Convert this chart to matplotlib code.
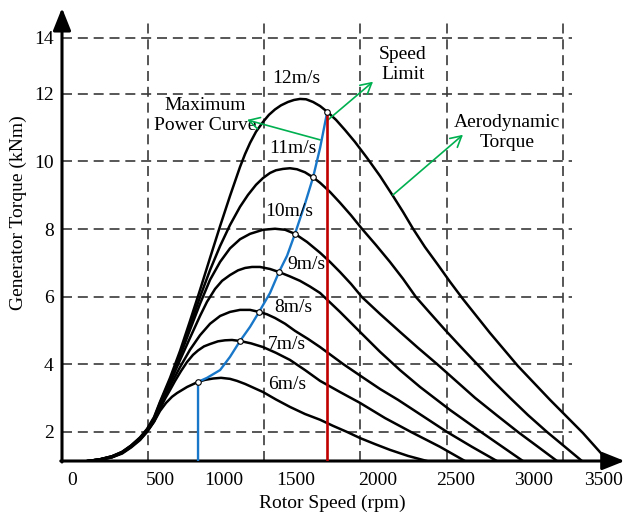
import matplotlib
matplotlib.use('Agg')
import matplotlib.pyplot as plt

plt.rcParams['font.family'] = ['Liberation Serif', 'DejaVu Serif']
plt.rcParams['font.size'] = 14

# aerodynamic torque curves, rotor speed (rpm) vs torque (kNm)
# the low-speed part is shared by all wind speeds (thick bundle)
bundle_rpm = [118, 197, 276, 342, 401, 460, 506, 552]

rpm_6 = bundle_rpm + [591, 631, 670, 703, 769, 841, 887, 940, 992, 1051, 1097, 1150, 1209, 1268, 1353, 1445,
                      1544, 1643, 1728, 1820, 1905, 2004, 2102, 2221, 2345]
tq_6 = [1.14, 1.17, 1.25, 1.36, 1.54, 1.76, 2.00, 2.30,
        2.62, 2.86, 3.04, 3.15, 3.33, 3.48, 3.54, 3.58, 3.60, 3.57, 3.51, 3.42, 3.30, 3.18, 2.96, 2.74,
        2.53, 2.36, 2.18, 2.00, 1.82, 1.64, 1.47, 1.29, 1.14]

rpm_7 = bundle_rpm + [591, 624, 657, 690, 729, 769, 808, 841, 880, 920, 972, 1018, 1064, 1117, 1189, 1268,
                      1353, 1445, 1544, 1643, 1774, 1905, 2070, 2240, 2431, 2595]
tq_7 = [1.14, 1.17, 1.25, 1.38, 1.56, 1.78, 2.01, 2.31,
        2.68, 2.98, 3.24, 3.51, 3.80, 4.07, 4.28, 4.41, 4.53, 4.60, 4.68, 4.71, 4.72, 4.69, 4.62, 4.51,
        4.34, 4.13, 3.83, 3.51, 3.18, 2.86, 2.41, 2.00, 1.56, 1.14]

rpm_8 = bundle_rpm + [591, 657, 723, 788, 854, 920, 986, 1051, 1117, 1183, 1242, 1294, 1347, 1413, 1478,
                      1564, 1643, 1794, 1918, 2037, 2155, 2267, 2477, 2641, 2805]
tq_8 = [1.14, 1.19, 1.26, 1.38, 1.57, 1.79, 2.03, 2.33,
        2.74, 3.36, 3.92, 4.43, 4.86, 5.20, 5.43, 5.55, 5.61, 5.61, 5.55, 5.48, 5.37, 5.20, 4.99,
        4.75, 4.51, 4.01, 3.63, 3.27, 2.95, 2.62, 2.00, 1.56, 1.14]

rpm_9 = bundle_rpm + [591, 657, 723, 788, 854, 900, 953, 999, 1051, 1104, 1150, 1196, 1248, 1314, 1373,
                      1445, 1511, 1577, 1643, 1774, 1905, 2037, 2168, 2300, 2497, 2700, 2838, 2976]
tq_9 = [1.14, 1.19, 1.26, 1.39, 1.57, 1.81, 2.04, 2.36,
        2.77, 3.45, 4.13, 4.78, 5.43, 5.85, 6.23, 6.47, 6.64, 6.78, 6.85, 6.88, 6.88, 6.82, 6.73,
        6.60, 6.47, 6.30, 6.11, 5.55, 4.96, 4.37, 3.83, 3.33, 2.65, 2.00, 1.57, 1.14]

rpm_10 = bundle_rpm + [591, 657, 723, 788, 854, 920, 986, 1051, 1117, 1183, 1268, 1347, 1413, 1478, 1557,
                       1643, 1708, 1774, 1846, 1918, 2037, 2168, 2286, 2411, 2536, 2661, 2805, 2943, 3075, 3200]
tq_10 = [1.14, 1.19, 1.28, 1.39, 1.59, 1.82, 2.06, 2.38,
         2.83, 3.51, 4.25, 5.02, 5.79, 6.50, 7.03, 7.43, 7.70, 7.86, 7.98, 8.01, 7.98, 7.86, 7.62,
         7.30, 7.03, 6.73, 6.38, 5.99, 5.49, 4.96, 4.49, 4.01, 3.51, 3.01, 2.49, 2.00, 1.56, 1.14]

rpm_11 = bundle_rpm + [591, 657, 723, 788, 854, 920, 986, 1051, 1117, 1169, 1222, 1268, 1314, 1353, 1399,
                       1445, 1491, 1544, 1597, 1643, 1708, 1774, 1846, 1918, 2010, 2102, 2188, 2273, 2365,
                       2464, 2569, 2674, 2779, 2891, 3009, 3134, 3252, 3364]
tq_11 = [1.14, 1.19, 1.28, 1.41, 1.59, 1.82, 2.07, 2.41,
         2.86, 3.54, 4.31, 5.14, 5.99, 6.79, 7.50, 8.12, 8.66, 9.01, 9.31, 9.51, 9.66, 9.74, 9.78,
         9.80, 9.77, 9.68, 9.53, 9.37, 9.10, 8.78, 8.41, 8.01, 7.53, 7.03, 6.53, 5.99, 5.52,
         5.02, 4.51, 4.01, 3.51, 3.01, 2.50, 2.00, 1.56, 1.14]

rpm_12 = bundle_rpm + [591, 657, 723, 788, 854, 920, 986, 1051, 1117, 1150, 1183, 1222, 1268, 1307, 1347,
                       1386, 1432, 1472, 1511, 1551, 1597, 1643, 1690, 1748, 1807, 1872, 1951, 2037, 2122,
                       2188, 2254, 2332, 2418, 2497, 2582, 2759, 2943, 3154, 3370, 3535]
tq_12 = [1.14, 1.19, 1.28, 1.41, 1.60, 1.84, 2.09, 2.44,
         2.89, 3.60, 4.40, 5.28, 6.20, 7.15, 8.09, 8.98, 9.84, 10.22, 10.55, 10.88, 11.17, 11.38, 11.54,
         11.66, 11.76, 11.82, 11.85, 11.84, 11.76, 11.64, 11.47, 11.23, 10.93, 10.58, 10.11, 9.57, 8.98,
         8.51, 8.01, 7.47, 6.94, 6.44, 5.93, 4.93, 3.95, 2.95, 1.97, 1.14]

# maximum power curve (blue) and its points on each torque curve
mpp_rpm = [841, 841, 900, 986, 1051, 1117, 1183, 1242, 1314, 1373, 1426, 1478, 1544, 1597, 1643, 1690]
mpp_tq = [1.14, 3.48, 3.60, 3.83, 4.22, 4.69, 5.11, 5.55, 6.11, 6.73, 7.21, 7.86, 8.75, 9.53, 10.40, 11.47]
mark_rpm = [841, 1117, 1242, 1373, 1478, 1597, 1690]
mark_tq = [3.48, 4.69, 5.55, 6.73, 7.86, 9.53, 11.47]

# speed limit (red)
limit_rpm = 1690
limit_tq = 11.47

wind_labels = ['6m/s', '7m/s', '8m/s', '9m/s', '10m/s', '11m/s', '12m/s']
wind_lab_rpm = [1426, 1426, 1465, 1551, 1439, 1465, 1485]
wind_lab_tq = [3.39, 4.60, 5.67, 6.94, 8.51, 10.37, 12.44]

xtick_pos = [13, 591, 1012, 1485, 2024, 2536, 3049, 3508]
xtick_lab = ['0', '500', '1000', '1500', '2000', '2500', '3000', '3500']
ytick_pos = [2, 4, 6, 8, 10, 12, 13.66]
ytick_lab = ['2', '4', '6', '8', '10', '12', '14']
xgrid = [512, 1275, 1905, 2477, 3239]
ygrid = [2, 4, 6, 8, 10, 12, 13.66]

x0, x1 = -53, 3660
y0, y1 = 1.14, 14.54

fig = plt.figure(figsize=(6.27, 5.17), dpi=100)
ax = fig.add_axes([62/627, 1 - 461/517, 565/627, 453/517])
ax.set_xlim(x0, x1)
ax.set_ylim(y0, y1)
for s in ax.spines.values():
    s.set_visible(False)

grid_kw = dict(color='#3a3a3a', lw=1.2, linestyle=(0, (6, 3.5)), zorder=1)
ax.vlines(xgrid, y0, 14.13, **grid_kw)
ax.hlines(ygrid, x0, 3298, **grid_kw)

curves = [(rpm_6, tq_6), (rpm_7, tq_7), (rpm_8, tq_8), (rpm_9, tq_9),
          (rpm_10, tq_10), (rpm_11, tq_11), (rpm_12, tq_12)]
for r, t in curves:
    ax.plot(r, t, color='black', lw=1.8, solid_joinstyle='round', zorder=3)

ax.plot(mpp_rpm, mpp_tq, color='#1877c9', lw=1.7, solid_joinstyle='round', zorder=4)
ax.plot([limit_rpm, limit_rpm], [y0, limit_tq], color='#c00000', lw=1.9, zorder=4)
ax.plot(mark_rpm, mark_tq, 'o', ms=4, mfc='white', mec='black', mew=0.8, zorder=5)

for lab, r, t in zip(wind_labels, wind_lab_rpm, wind_lab_tq):
    ax.text(r, t, lab, ha='center', va='center', zorder=6)

ax.text(887, 11.35, 'Maximum\nPower Curve', ha='center', va='center', linespacing=1.25)
ax.text(2188, 12.86, 'Speed\nLimit', ha='center', va='center', linespacing=1.25)
ax.text(2871, 10.85, 'Aerodynamic\nTorque', ha='center', va='center', linespacing=1.25)

green = dict(arrowstyle='->,head_length=0.55,head_width=0.3', color='#00b050',
             lw=1.2, mutation_scale=14, shrinkA=0, shrinkB=0)
ax.annotate('', xy=(1163, 11.23), xytext=(1643, 10.64), arrowprops=green)
ax.annotate('', xy=(1991, 12.36), xytext=(1695, 11.23), arrowprops=green)
ax.annotate('', xy=(2582, 10.79), xytext=(2122, 9.01), arrowprops=green)

# axes with arrow heads
axis_kw = dict(arrowstyle='-|>,head_length=0.4,head_width=0.16', mutation_scale=34,
               lw=2.2, color='black', shrinkA=0, shrinkB=0)
ax.annotate('', xy=(x0, y1), xytext=(x0, y0 - 0.03), arrowprops=axis_kw, annotation_clip=False)
ax.annotate('', xy=(x1 - 15, y0), xytext=(x0 - 8, y0), arrowprops=axis_kw, annotation_clip=False)

ax.set_xticks(xtick_pos, xtick_lab)
ax.set_yticks(ytick_pos, ytick_lab)
ax.tick_params(length=0, pad=6, labelsize=14)
ax.tick_params(axis='x', pad=8)

fig.text(332/627, 1 - 503/517, 'Rotor Speed (rpm)', ha='center', va='center', fontsize=14)
fig.text(18/627, 1 - 213/517, 'Generator Torque (kNm)', ha='center', va='center',
         rotation=90, fontsize=14)

fig.savefig('out.png', dpi=100)
